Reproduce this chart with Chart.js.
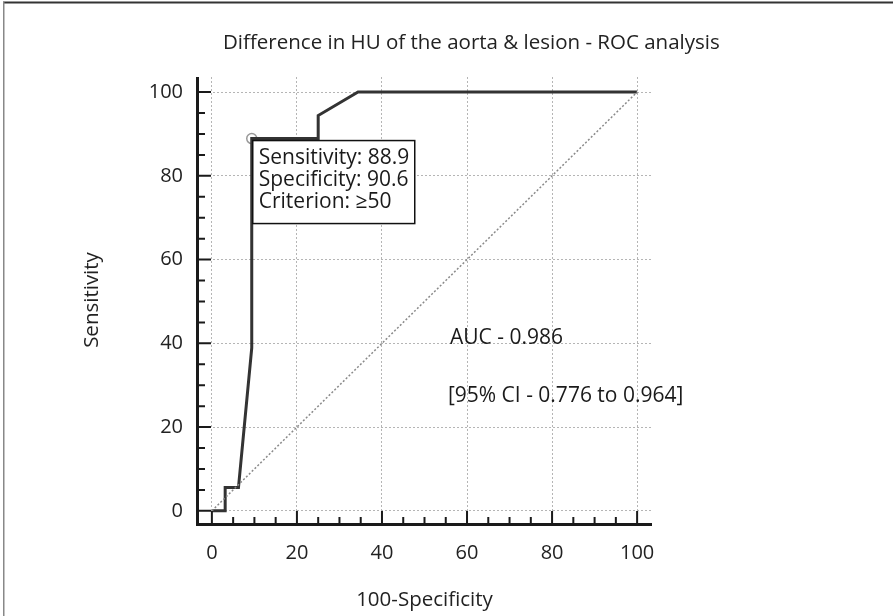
<!DOCTYPE html>
<html><head><meta charset="utf-8">
<script src="https://cdn.jsdelivr.net/npm/chart.js@4"></script>
<style>html,body{margin:0;padding:0;background:#fff}#wrap{width:893px;height:616px}</style>
</head><body><div id="wrap"><canvas id="c" width="893" height="616"></canvas></div>
<script>
// ---- data ----
const rocX = [0, 3.125, 3.125, 6.25, 9.375, 9.375, 25, 25, 34.375, 100];
const rocY = [0, 0, 5.56, 5.56, 38.9, 88.9, 88.9, 94.4, 100, 100];
const refX = [0, 100];
const refY = [0, 100];
const cutoffX = [9.375];
const cutoffY = [88.9];
const tickValues = [0, 20, 40, 60, 80, 100];
const minorTickValues = [0,5,10,15,20,25,30,35,40,45,50,55,60,65,70,75,80,85,90,95,100];
const boxLines = ['Sensitivity: 88.9', 'Specificity: 90.6', 'Criterion: \u226550'];
const aucText = 'AUC - 0.986';
const ciText = '[95% CI - 0.776 to 0.964]';
const aucPos = [56.0, 41.3];
const ciPos = [55.5, 27.4];
const titleText = 'Difference in HU of the aorta & lesion - ROC analysis';
const xTitle = '100-Specificity';
const yTitle = 'Sensitivity';

const FONT = "'Open Sans', sans-serif";
const toPts = (xs, ys) => xs.map((x, i) => ({x: x, y: ys[i]}));

const decor = {
  id: 'decor',
  beforeDraw(chart) {
    const ctx = chart.ctx;
    ctx.save();
    ctx.fillStyle = '#fff';
    ctx.fillRect(0, 0, chart.width, chart.height);
    ctx.strokeStyle = '#333';
    ctx.lineWidth = 2;
    ctx.beginPath(); ctx.moveTo(3, 2.5); ctx.lineTo(chart.width, 2.5); ctx.stroke();
    ctx.strokeStyle = '#888';
    ctx.lineWidth = 1.5;
    ctx.beginPath(); ctx.moveTo(3.75, 2); ctx.lineTo(3.75, chart.height); ctx.stroke();
    // title
    ctx.fillStyle = '#222';
    ctx.font = '20.5px ' + FONT;
    ctx.textAlign = 'left';
    ctx.textBaseline = 'middle';
    ctx.fillText(titleText, 223, 43);
    ctx.restore();
  },
  afterDatasetsDraw(chart) {
    const ctx = chart.ctx;
    const xs = chart.scales.x, ys = chart.scales.y;
    const a = chart.chartArea;
    ctx.save();
    // axes
    ctx.strokeStyle = '#1a1a1a';
    ctx.lineWidth = 3;
    ctx.beginPath();
    ctx.moveTo(a.left + 0.5, a.top);
    ctx.lineTo(a.left + 0.5, a.bottom + 1.5);
    ctx.lineTo(a.right, a.bottom + 1.5);
    ctx.stroke();
    // ticks (inward)
    ctx.lineWidth = 2;
    minorTickValues.forEach(v => {
      const major = v % 20 === 0;
      const px = xs.getPixelForValue(v);
      const py = ys.getPixelForValue(v);
      ctx.beginPath();
      ctx.moveTo(a.left, py); ctx.lineTo(a.left + (major ? 14 : 8), py);
      ctx.moveTo(px, a.bottom); ctx.lineTo(px, a.bottom - (major ? 12 : 6));
      ctx.stroke();
    });
    // criterion box
    const bx = xs.getPixelForValue(cutoffX[0]) + 1;
    const by = ys.getPixelForValue(cutoffY[0]) + 2;
    ctx.fillStyle = '#fff';
    ctx.fillRect(bx, by, 162, 83);
    ctx.strokeStyle = '#111';
    ctx.lineWidth = 1.5;
    ctx.strokeRect(bx, by, 162, 83);
    ctx.fillStyle = '#1a1a1a';
    ctx.font = '21px ' + FONT;
    ctx.textAlign = 'left';
    ctx.textBaseline = 'middle';
    boxLines.forEach((t, i) => ctx.fillText(t, bx + 6, by + 17 + i * 22));
    // AUC annotation
    ctx.fillText(aucText, xs.getPixelForValue(aucPos[0]), ys.getPixelForValue(aucPos[1]));
    ctx.fillText(ciText, xs.getPixelForValue(ciPos[0]), ys.getPixelForValue(ciPos[1]));
    ctx.restore();
  }
};

const setTicks = s => { s.ticks = tickValues.map(v => ({value: v})); };

new Chart(document.getElementById('c'), {
  type: 'scatter',
  data: {
    datasets: [
      { data: toPts(refX, refY), showLine: true, borderColor: '#8a8a8a', borderWidth: 1.5,
        borderDash: [2, 2], pointRadius: 0, fill: false },
      { data: toPts(rocX, rocY), showLine: true, borderColor: '#333', borderWidth: 3,
        pointRadius: 0, fill: false, tension: 0 },
      { data: toPts(cutoffX, cutoffY), showLine: false, pointRadius: 5,
        pointBackgroundColor: '#fff', pointBorderColor: '#999', pointBorderWidth: 1.5 }
    ]
  },
  options: {
    responsive: false,
    devicePixelRatio: 1,
    animation: false,
    layout: { padding: { left: 0, top: 77, right: 241, bottom: 0 } },
    plugins: {
      legend: { display: false },
      tooltip: { enabled: false },
      title: { display: false }
    },
    scales: {
      x: {
        type: 'linear', min: -3.5, max: 103.5,
        afterBuildTicks: setTicks,
        afterFit: s => { s.height = 93; },
        grid: { color: '#b5b5b5', lineWidth: 1, drawTicks: false },
        border: { display: false, dash: [2, 2] },
        ticks: { color: '#222', font: { family: FONT, size: 20 }, padding: 18 },
        title: { display: true, text: xTitle, color: '#222', font: { family: FONT, size: 20.5 },
          padding: { top: 0, bottom: 3.7 } }
      },
      y: {
        type: 'linear', min: -2.9, max: 103.6,
        afterBuildTicks: setTicks,
        afterFit: s => { s.width = 197; },
        grid: { color: '#b5b5b5', lineWidth: 1, drawTicks: false },
        border: { display: false, dash: [2, 2] },
        ticks: { color: '#222', font: { family: FONT, size: 20 }, padding: 14 },
        title: { display: true, text: yTitle, color: '#222', font: { family: FONT, size: 20.5 },
          padding: { top: 79.7, bottom: 0 } }
      }
    }
  },
  plugins: [decor]
});
</script></body></html>
